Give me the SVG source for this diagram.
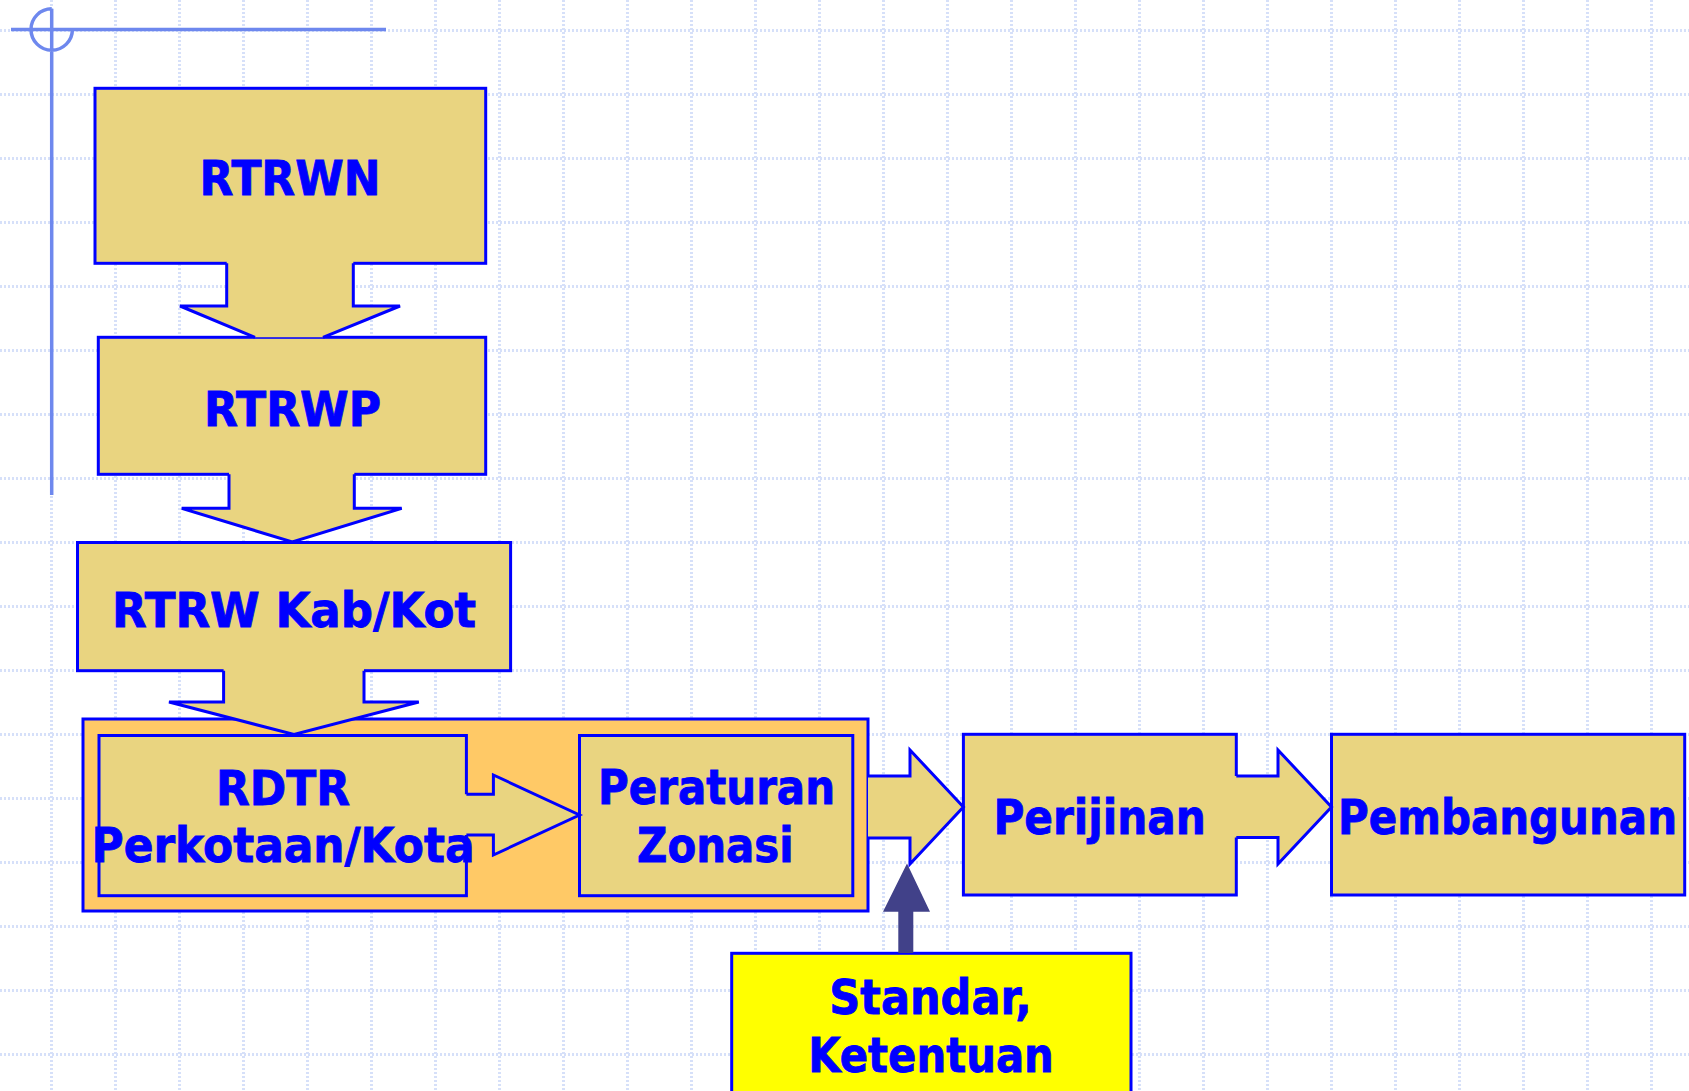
<svg xmlns="http://www.w3.org/2000/svg" width="1689" height="1091" viewBox="0 0 1689 1091">
<style>
.grid{stroke:#d6e0f9;stroke-width:3;stroke-dasharray:2 2;fill:none}
.deco{stroke:#6e88ee;stroke-width:3.5;fill:none}
.box{fill:#e9d480;stroke:#0000ff;stroke-width:3}
.grp{fill:#ffc966;stroke:#0000ff;stroke-width:3}
.yel{fill:#ffff00;stroke:#0000ff;stroke-width:3}
.afill{fill:#e9d480;stroke:none}
.aline{fill:none;stroke:#0000ff;stroke-width:3;stroke-linejoin:miter}
.dark{fill:#414189;stroke:none}
text{font-family:"DejaVu Sans","Verdana",sans-serif;font-weight:bold;font-size:48px;fill:#0000ff;stroke:#0000ff;stroke-width:0.9;text-anchor:middle}
</style>
<rect width="1689" height="1091" fill="#ffffff"/>
<g id="grid">
<path class="grid" d="M51.5 0V1091M115.5 0V1091M179.5 0V1091M243.5 0V1091M307.5 0V1091M371.5 0V1091M435.5 0V1091M499.5 0V1091M563.5 0V1091M627.5 0V1091M691.5 0V1091M755.5 0V1091M819.5 0V1091M883.5 0V1091M947.5 0V1091M1011.5 0V1091M1075.5 0V1091M1139.5 0V1091M1203.5 0V1091M1267.5 0V1091M1331.5 0V1091M1395.5 0V1091M1459.5 0V1091M1523.5 0V1091M1587.5 0V1091M1651.5 0V1091"/>
<path class="grid" d="M0 30.5H1689M0 94.5H1689M0 158.5H1689M0 222.5H1689M0 286.5H1689M0 350.5H1689M0 414.5H1689M0 478.5H1689M0 542.5H1689M0 606.5H1689M0 670.5H1689M0 734.5H1689M0 798.5H1689M0 862.5H1689M0 926.5H1689M0 990.5H1689M0 1054.5H1689"/>
</g>
<g id="crosshair">
<path class="deco" d="M11 29.5H386M51.7 8.8V495M51.7 8.8A20.7 20.7 0 1 0 72.4 29.5"/>
</g>
<g id="group-rdtr-pz">
<rect class="grp" x="83" y="719" width="785" height="192"/>
</g>
<g id="node-rtrwn">
<rect class="box" x="95" y="88.3" width="390.7" height="175"/>
<text x="290" y="195" textLength="181" lengthAdjust="spacingAndGlyphs">RTRWN</text>
</g>
<g id="node-rtrwp">
<rect class="box" x="98.3" y="337.3" width="387.4" height="137"/>
<text x="292.6" y="426" textLength="177" lengthAdjust="spacingAndGlyphs">RTRWP</text>
</g>
<g id="node-rtrw-kab">
<rect class="box" x="77.5" y="542.5" width="433.1" height="128.2"/>
<text x="294" y="627" textLength="364" lengthAdjust="spacingAndGlyphs">RTRW Kab/Kot</text>
</g>
<g id="node-rdtr">
<rect class="box" x="99" y="735.5" width="367.4" height="160.2"/>
<text x="283" y="805" textLength="134" lengthAdjust="spacingAndGlyphs">RDTR</text>
<text x="283" y="861.7" textLength="383" lengthAdjust="spacingAndGlyphs">Perkotaan/Kota</text>
</g>
<g id="node-peraturan-zonasi">
<rect class="box" x="579.5" y="735.5" width="273.3" height="160.2"/>
<text x="716.5" y="804.3" textLength="237" lengthAdjust="spacingAndGlyphs">Peraturan</text>
<text x="715.3" y="861.7" textLength="156.6" lengthAdjust="spacingAndGlyphs">Zonasi</text>
</g>
<g id="node-perijinan">
<rect class="box" x="963.4" y="734.3" width="272.9" height="160.7"/>
<text x="1099.6" y="834" textLength="212.4" lengthAdjust="spacingAndGlyphs">Perijinan</text>
</g>
<g id="node-pembangunan">
<rect class="box" x="1331.5" y="734.3" width="353.2" height="160.7"/>
<text x="1507.5" y="834" textLength="339" lengthAdjust="spacingAndGlyphs">Pembangunan</text>
</g>
<g id="node-standar">
<rect class="yel" x="731.7" y="953.3" width="399.3" height="150"/>
<text x="930.5" y="1014" textLength="202.4" lengthAdjust="spacingAndGlyphs">Standar,</text>
<text x="931" y="1071.7" textLength="245.7" lengthAdjust="spacingAndGlyphs">Ketentuan</text>
</g>
<g id="connectors">
<polygon class="afill" points="226.7,259 353.3,259 353.3,306 400,306 323,337.3 255,337.3 180,306 226.7,306"/>
<path class="aline" d="M226.7 263.3V306H180L255 337.3M323 337.3L400 306H353.3V263.3"/>
<polygon class="afill" points="229,470 354.3,470 354.3,508.3 401.7,508.3 292.3,542 181.7,508.3 229,508.3"/>
<path class="aline" d="M229 474.3V508.3H181.7L292.3 542L401.7 508.3H354.3V474.3"/>
<polygon class="afill" points="223.6,667 364,667 364,702 418.8,702 294,734.5 169,702 223.6,702"/>
<path class="aline" d="M223.6 670.7V702H169L294 734.5L418.8 702H364V670.7"/>
<polygon class="afill" points="462.5,794.3 493.4,794.3 493.4,775 579.5,815 493.4,855 493.4,835 462.5,835"/>
<path class="aline" d="M466.4 794.3H493.4V775L579.5 815L493.4 855V835H466.4"/>
<polygon class="afill" points="868,776 910,776 910,750 963.4,807 910,864 910,838 868,838"/>
<path class="aline" d="M868 776H910V750L963.4 807L910 864V838H868"/>
<polygon class="afill" points="1232.5,776 1278,776 1278,750 1331.5,807 1278,864 1278,837.5 1232.5,837.5"/>
<path class="aline" d="M1236.3 776H1278V750L1331.5 807L1278 864V837.5H1236.3"/>
<polygon class="dark" points="898.3,953 898.3,911.7 883,911.7 907,863.5 930,911.7 913.3,911.7 913.3,953"/>
</g>
</svg>
